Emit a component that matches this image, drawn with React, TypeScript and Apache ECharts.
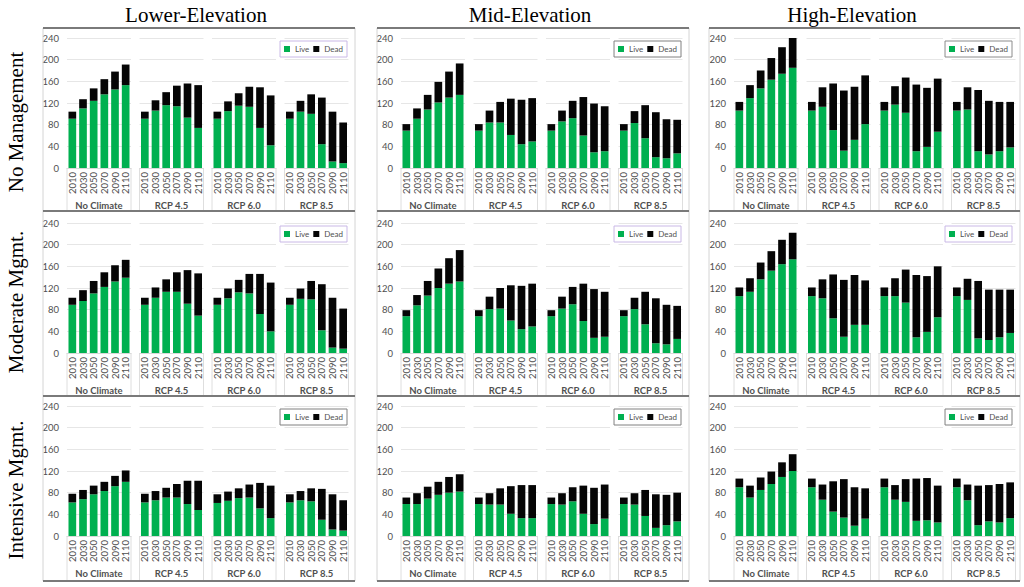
import React, { useEffect, useRef } from "react";
import * as echarts from "echarts";

// ---------- data ----------
const years = ["2010", "2030", "2050", "2070", "2090", "2110"];
const scenarios = ["No Climate", "RCP 4.5", "RCP 6.0", "RCP 8.5"];
const elevations = ["Lower-Elevation", "Mid-Elevation", "High-Elevation"];
const managements = ["No Management", "Moderate Mgmt.", "Intensive Mgmt."];
const seriesNames = ["Live", "Dead"];
const yMin = 0;
const yMax = 240;
const yInterval = 40;

// each array: 24 values = 4 scenarios x 6 years (No Climate, RCP 4.5, RCP 6.0, RCP 8.5)
const liveLowerNone = [91, 110, 124, 136, 145, 153, 91, 106, 116, 114, 93, 74, 91, 105, 115, 113, 74, 42, 91, 104, 100, 44, 12, 9];
const totalLowerNone = [104, 127, 147, 164, 178, 191, 104, 125, 140, 152, 156, 153, 104, 123, 138, 150, 149, 134, 104, 124, 136, 130, 104, 84];
const liveMidNone = [69, 91, 108, 121, 130, 135, 69, 84, 84, 61, 44, 49, 69, 86, 92, 60, 29, 31, 69, 83, 55, 20, 18, 27];
const totalMidNone = [81, 110, 135, 159, 178, 193, 81, 106, 122, 128, 126, 129, 81, 106, 124, 131, 119, 114, 81, 105, 116, 103, 90, 89];
const liveHighNone = [106, 129, 147, 163, 174, 185, 106, 113, 70, 32, 52, 81, 106, 117, 102, 31, 39, 67, 106, 108, 31, 25, 31, 38];
const totalHighNone = [122, 153, 180, 203, 223, 240, 122, 149, 156, 143, 150, 171, 122, 151, 167, 154, 148, 165, 122, 149, 144, 124, 122, 122];

const liveLowerModerate = [89, 96, 110, 122, 132, 139, 89, 102, 113, 113, 91, 69, 89, 101, 112, 110, 72, 40, 89, 100, 99, 42, 10, 8];
const totalLowerModerate = [102, 116, 133, 149, 162, 172, 102, 121, 136, 149, 153, 147, 102, 119, 135, 146, 146, 130, 102, 119, 133, 127, 102, 82];
const liveMidModerate = [68, 88, 106, 120, 128, 132, 68, 81, 82, 60, 44, 49, 68, 82, 90, 59, 28, 30, 68, 81, 53, 18, 16, 26];
const totalMidModerate = [79, 107, 133, 156, 175, 190, 79, 104, 120, 125, 124, 128, 79, 104, 122, 128, 118, 113, 79, 102, 113, 101, 89, 87];
const liveHighModerate = [105, 113, 136, 152, 164, 173, 105, 101, 64, 30, 52, 52, 105, 105, 93, 29, 39, 66, 105, 98, 27, 24, 29, 37];
const totalHighModerate = [121, 138, 167, 188, 209, 222, 121, 136, 145, 135, 144, 134, 121, 138, 154, 144, 142, 160, 121, 137, 133, 117, 117, 117];

const liveLowerIntensive = [62, 68, 77, 83, 92, 100, 62, 66, 71, 71, 59, 48, 61, 65, 70, 71, 51, 33, 62, 66, 64, 30, 12, 10];
const totalLowerIntensive = [78, 85, 93, 100, 111, 121, 78, 83, 89, 96, 102, 102, 77, 82, 88, 95, 98, 93, 77, 83, 88, 87, 77, 66];
const liveMidIntensive = [59, 59, 69, 76, 80, 82, 59, 58, 58, 41, 33, 33, 59, 58, 64, 41, 22, 32, 59, 58, 37, 15, 20, 27];
const totalMidIntensive = [71, 79, 91, 100, 109, 114, 71, 79, 88, 92, 94, 94, 71, 79, 90, 93, 89, 95, 71, 79, 85, 77, 76, 80];
const liveHighIntensive = [90, 71, 85, 96, 109, 120, 90, 67, 45, 34, 19, 32, 90, 67, 63, 28, 29, 25, 90, 66, 20, 27, 25, 33];
const totalHighIntensive = [106, 93, 108, 119, 136, 151, 106, 95, 101, 105, 90, 88, 106, 94, 105, 106, 107, 93, 106, 95, 93, 94, 96, 99];

const panelData = [
  [
    { live: liveLowerNone, total: totalLowerNone },
    { live: liveMidNone, total: totalMidNone },
    { live: liveHighNone, total: totalHighNone },
  ],
  [
    { live: liveLowerModerate, total: totalLowerModerate },
    { live: liveMidModerate, total: totalMidModerate },
    { live: liveHighModerate, total: totalHighModerate },
  ],
  [
    { live: liveLowerIntensive, total: totalLowerIntensive },
    { live: liveMidIntensive, total: totalMidIntensive },
    { live: liveHighIntensive, total: totalHighIntensive },
  ],
];

// ---------- layout ----------
const W = 1024;
const H = 587;
const panelX = [
  [43, 355],
  [377, 689],
  [709, 1020],
];
const panelY = [
  [28, 211],
  [211, 396],
  [396, 581],
];
const plotLeft = [67, 401, 734];
const gridTop = [38, 223, 406];
const gridH = 130;
const groupPitch = 72.5;
const groupW = 64;
const titleX = [196, 530, 852];
const rowLabelY = [122, 302, 490];
const legendBorder = [
  ["#c9b8e6", "#808080", "#8c8c8c"],
  ["#c9b8e6", "#c9b8e6", "#c9b8e6"],
  ["#808080", "#808080", "#808080"],
];

const GREEN = "#00b050";
const BLACK = "#050505";
const TXT = "#505050";
const FONT = 'Lato, "Open Sans", "Liberation Sans", sans-serif';

function buildOption() {
  const grid: any[] = [];
  const xAxis: any[] = [];
  const yAxis: any[] = [];
  const series: any[] = [];
  const legend: any[] = [];
  const graphic: any[] = [];

  for (let r = 0; r < 3; r++) {
    for (let c = 0; c < 3; c++) {
      const d = panelData[r][c];
      const [px0, px1] = panelX[c];
      const [py0, py1] = panelY[r];
      // panel frame
      graphic.push({
        type: "rect",
        shape: { x: px0, y: py0, width: px1 - px0, height: py1 - py0 },
        style: { fill: "none", stroke: "#d4d4d4", lineWidth: 1 },
        silent: true,
        z: 1,
      });
      graphic.push({
        type: "line",
        shape: { x1: px0, y1: py0, x2: px1, y2: py0 },
        style: { stroke: "#7a7a7a", lineWidth: 2 },
        silent: true,
        z: 2,
      });
      graphic.push({
        type: "line",
        shape: { x1: px0, y1: py1, x2: px1, y2: py1 },
        style: { stroke: "#7a7a7a", lineWidth: 2 },
        silent: true,
        z: 2,
      });

      for (let g = 0; g < 4; g++) {
        const idx = grid.length;
        const left = plotLeft[c] + g * groupPitch;
        grid.push({ left, top: gridTop[r], width: groupW, height: gridH });
        xAxis.push({
          type: "category",
          gridIndex: idx,
          data: years,
          name: scenarios[g],
          nameLocation: "middle",
          nameGap: 32,
          nameTextStyle: { fontSize: 9.5, color: TXT, fontWeight: "bold", fontFamily: FONT },
          axisLine: { show: true, lineStyle: { color: "#d9d9d9", width: 1 } },
          axisTick: { show: false },
          axisLabel: {
            interval: 0,
            rotate: 90,
            fontSize: 9.5,
            color: TXT,
            margin: 4,
            fontFamily: FONT,
          },
        });
        yAxis.push({
          type: "value",
          gridIndex: idx,
          min: yMin,
          max: yMax,
          interval: yInterval,
          axisLine: { show: false },
          axisTick: { show: false },
          axisLabel: {
            show: g === 0,
            fontSize: 9.5,
            color: TXT,
            margin: 8,
            fontFamily: FONT,
          },
          splitLine: { show: true, lineStyle: { color: "#e6e6e6", width: 1 } },
        });
        const live = d.live.slice(g * 6, g * 6 + 6);
        const dead = d.total.slice(g * 6, g * 6 + 6).map((t, i) => t - live[i]);
        series.push({
          type: "bar",
          name: seriesNames[0],
          xAxisIndex: idx,
          yAxisIndex: idx,
          stack: "s" + idx,
          data: live,
          barWidth: "72%",
          itemStyle: { color: GREEN },
        });
        series.push({
          type: "bar",
          name: seriesNames[1],
          xAxisIndex: idx,
          yAxisIndex: idx,
          stack: "s" + idx,
          data: dead,
          barWidth: "72%",
          itemStyle: { color: BLACK },
        });
        // category separators in label area
        const yb = gridTop[r] + gridH;
        [left, left + groupW].forEach((x) => {
          graphic.push({
            type: "line",
            shape: { x1: x, y1: yb, x2: x, y2: py1 - 1 },
            style: { stroke: "#dedede", lineWidth: 1 },
            silent: true,
          });
        });
      }

      legend.push({
        data: seriesNames,
        right: W - px1 + 8,
        top: gridTop[r] + 3,
        orient: "horizontal",
        icon: "rect",
        itemWidth: 6,
        itemHeight: 6,
        itemGap: 4,
        padding: [4, 4],
        borderColor: legendBorder[r][c],
        borderWidth: 1,
        backgroundColor: "#ffffff",
        textStyle: { fontSize: 8, color: TXT, fontFamily: FONT },
        selectedMode: false,
      });
    }
  }

  elevations.forEach((t, c) => {
    graphic.push({
      type: "text",
      x: titleX[c],
      y: 15,
      style: {
        text: t,
        fontFamily: '"Liberation Serif", "DejaVu Serif", serif',
        fontSize: 21,
        fill: "#000",
        textAlign: "center",
        textVerticalAlign: "middle",
      },
    });
  });
  managements.forEach((t, r) => {
    graphic.push({
      type: "text",
      x: 16,
      y: rowLabelY[r],
      rotation: Math.PI / 2,
      style: {
        text: t,
        fontFamily: '"Liberation Serif", "DejaVu Serif", serif',
        fontSize: 21,
        fill: "#000",
        textAlign: "center",
        textVerticalAlign: "middle",
      },
    });
  });

  return {
    animation: false,
    backgroundColor: "#ffffff",
    textStyle: { fontFamily: FONT },
    grid,
    xAxis,
    yAxis,
    series,
    legend,
    graphic,
  };
}

export default function App() {
  const ref = useRef<HTMLDivElement>(null);
  useEffect(() => {
    if (!ref.current) return;
    const chart = echarts.init(ref.current, undefined, { renderer: "svg" });
    chart.setOption(buildOption() as any);
    return () => chart.dispose();
  }, []);
  return (
    <div
      ref={ref}
      style={{ position: "fixed", left: 0, top: 0, width: W, height: H, background: "#fff" }}
    />
  );
}
